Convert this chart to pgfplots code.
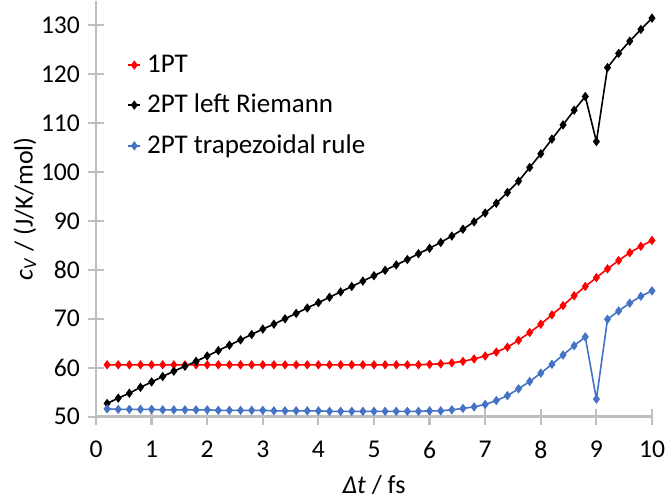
\documentclass[border=0pt]{standalone}
\usepackage{fontspec}
\setmainfont{Carlito}
\usepackage{pgfplots}
\usepackage{pgfplotstable}
\pgfplotsset{compat=1.18}
\definecolor{excelred}{RGB}{255,0,0}
\definecolor{excelblue}{RGB}{68,114,196}
\definecolor{axgray}{RGB}{191,191,191}
\pgfplotstableread{
x a b c
0.2 60.6 52.7 51.6
0.4 60.6 53.8 51.5
0.6 60.6 54.8 51.5
0.8 60.6 56.0 51.5
1.0 60.6 57.1 51.5
1.2 60.6 58.2 51.4
1.4 60.6 59.3 51.4
1.6 60.6 60.3 51.4
1.8 60.6 61.3 51.4
2.0 60.6 62.4 51.4
2.2 60.6 63.5 51.3
2.4 60.6 64.6 51.3
2.6 60.6 65.7 51.3
2.8 60.6 66.8 51.3
3.0 60.6 67.9 51.3
3.2 60.6 68.9 51.2
3.4 60.6 70.0 51.2
3.6 60.6 71.1 51.2
3.8 60.6 72.2 51.2
4.0 60.6 73.3 51.2
4.2 60.6 74.4 51.1
4.4 60.6 75.5 51.1
4.6 60.6 76.6 51.1
4.8 60.6 77.7 51.1
5.0 60.6 78.8 51.1
5.2 60.6 79.9 51.1
5.4 60.6 81.0 51.1
5.6 60.6 82.1 51.1
5.8 60.6 83.3 51.1
6.0 60.7 84.4 51.2
6.2 60.8 85.6 51.2
6.4 61.0 86.9 51.4
6.6 61.3 88.3 51.7
6.8 61.8 89.8 52.0
7.0 62.4 91.6 52.5
7.2 63.2 93.6 53.3
7.4 64.2 95.8 54.3
7.6 65.6 98.1 55.7
7.8 67.2 100.9 57.2
8.0 68.9 103.7 58.9
8.2 70.8 106.7 60.7
8.4 72.7 109.6 62.6
8.6 74.7 112.6 64.5
8.8 76.6 115.4 66.3
9.0 78.4 106.2 53.6
9.2 80.2 121.3 69.9
9.4 81.9 124.2 71.6
9.6 83.5 126.7 73.2
9.8 84.8 129.1 74.6
10.0 86.0 131.4 75.7
}\datatable
\begin{document}
\begin{tikzpicture}
\begin{axis}[
  scale only axis,
  width=278pt, height=208.1pt,
  xmin=0, xmax=10, ymin=50, ymax=135,
  xtick={0,1,...,10}, ytick={50,60,...,130},
  axis lines=left,
  axis line style={axgray, line width=1.3pt, -},
  tick style={axgray, line width=1.1pt},
  tick align=center,
  major tick length=8pt,
  /pgf/number format/assume math mode=true,
  ticklabel style={font=\fontsize{12.8}{14}\selectfont, black},
  xticklabel style={yshift=-4.5pt},
  yticklabel style={xshift=-0.5pt},
  xlabel={\textit{Δt} / fs},
  ylabel={\textit{c}\textsubscript{\textit{V}} / (J/K/mol)},
  label style={font=\fontsize{13}{15}\selectfont},
  xlabel style={anchor=center, at={(axis description cs:0.5,-0.163)}},
  ylabel style={anchor=center, rotate=0, at={(axis description cs:-0.128,0.5)}},
  legend style={draw=none, fill=none, at={(axis description cs:0.056,0.88)}, anchor=north west,
    font=\fontsize{13.5}{15}\selectfont, row sep=5.5pt, inner sep=0pt,
    nodes={inner xsep=3pt}},
  legend cell align=left,
  legend image code/.code={\draw[#1, mark repeat=2, mark phase=2] plot coordinates {(0pt,0pt) (3pt,0pt) (6pt,0pt)};},
  every axis plot/.append style={line width=0.8pt, mark=diamond*, mark size=1.7pt},
  clip=false,
]
\addplot[excelred, mark options={fill=excelred}] table[x=x, y=a] {\datatable};
\addlegendentry{1PT}
\addplot[black, mark options={fill=black}] table[x=x, y=b] {\datatable};
\addlegendentry{2PT left Riemann}
\addplot[excelblue, mark options={fill=excelblue}] table[x=x, y=c] {\datatable};
\addlegendentry{2PT trapezoidal rule}
\coordinate (O) at (rel axis cs:0,0);
\end{axis}
\pgfresetboundingbox
\path ([shift={(-48pt,-41.65pt)}]O) rectangle ([shift={(285pt,208.35pt)}]O);
\end{tikzpicture}
\end{document}
